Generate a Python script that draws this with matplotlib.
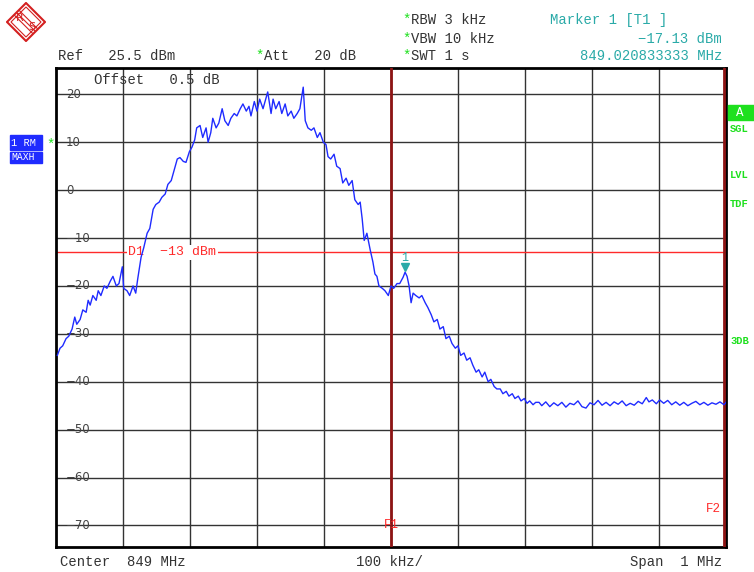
import matplotlib
matplotlib.use("Agg")
import matplotlib.pyplot as plt
from matplotlib.patches import Rectangle, Polygon

# trace: offset from 849 MHz in kHz, level in dBm
freq_khz = [-498, -494, -490, -485, -481, -476, -472, -469, -464, -460,
            -455, -452, -449, -445, -440, -437, -433, -428, -424, -419,
            -415, -410, -406, -401, -399, -394, -390, -385, -381, -378,
            -373, -369, -364, -360, -355, -351, -346, -342, -337, -333,
            -328, -324, -319, -315, -310, -306, -301, -297, -293, -290,
            -285, -281, -276, -273, -269, -266, -261, -257, -252, -248,
            -243, -239, -234, -230, -225, -221, -216, -212, -209, -204,
            -200, -196, -191, -187, -184, -179, -176, -172, -167, -163,
            -158, -154, -149, -145, -140, -136, -131, -128, -124, -119,
            -115, -110, -106, -101, -97, -94, -90, -85, -81, -76,
            -72, -67, -63, -58, -54, -49, -46, -43, -40, -36,
            -31, -27, -24, -21, -18, -13, -9, -4, 0, 4,
            9, 13, 18, 21, 24, 27, 30, 33, 37, 42,
            46, 51, 55, 60, 64, 69, 73, 78, 82, 87,
            91, 96, 100, 104, 109, 113, 118, 122, 127, 131,
            136, 140, 145, 149, 154, 158, 163, 167, 172, 176,
            181, 185, 190, 194, 199, 203, 207, 212, 216, 221,
            225, 231, 237, 243, 249, 255, 261, 267, 273, 279,
            285, 291, 297, 303, 309, 315, 321, 327, 333, 339,
            345, 351, 357, 363, 369, 375, 381, 385, 390, 396,
            401, 407, 413, 419, 425, 431, 437, 443, 449, 455,
            461, 467, 473, 479, 485, 491, 497, 500]
level_dbm = [-34.5, -33.0, -32.5, -31.0, -30.5, -29.0, -26.5, -28.0, -27.0, -25.0,
             -25.5, -23.0, -24.0, -22.0, -23.0, -21.0, -22.0, -20.0, -20.5, -19.0,
             -18.0, -20.0, -19.5, -16.0, -20.5, -21.0, -22.0, -20.0, -21.5, -18.5,
             -14.0, -12.0, -9.0, -8.0, -4.0, -3.0, -2.5, -1.5, -0.8, 1.2,
             2.0, 4.0, 6.5, 6.8, 6.0, 5.8, 8.0, 9.0, 10.5, 13.0,
             13.5, 11.0, 13.0, 10.0, 12.0, 15.0, 13.0, 14.0, 17.0, 14.5,
             13.5, 15.0, 16.0, 15.5, 17.0, 18.0, 16.5, 17.5, 15.5, 18.5,
             16.5, 19.0, 17.0, 19.0, 20.5, 16.0, 19.0, 17.0, 18.5, 16.0,
             18.0, 15.5, 16.5, 15.0, 16.0, 17.0, 21.5, 14.5, 13.0, 12.5,
             13.0, 11.0, 12.0, 10.0, 9.5, 7.0, 6.5, 7.5, 5.0, 4.5,
             1.5, 2.5, 1.0, 2.0, -2.0, -3.0, -2.5, -6.0, -10.5, -9.0,
             -12.5, -15.0, -17.5, -18.0, -20.0, -20.5, -21.0, -22.0, -20.0, -20.5,
             -19.5, -19.5, -18.2, -17.13, -18.0, -20.0, -23.5, -21.5, -22.0, -22.5,
             -22.0, -23.5, -24.5, -26.0, -27.5, -27.0, -29.0, -28.5, -31.0, -30.5,
             -32.0, -33.0, -32.5, -34.5, -34.0, -35.5, -35.0, -36.5, -38.0, -37.5,
             -39.0, -38.0, -40.0, -39.5, -41.0, -41.5, -41.5, -42.5, -42.0, -43.0,
             -42.5, -43.5, -43.0, -44.0, -43.5, -44.5, -44.0, -44.8, -44.3, -44.3,
             -45.0, -44.2, -45.2, -44.4, -45.0, -44.3, -45.3, -44.5, -44.8, -44.0,
             -45.2, -45.5, -44.4, -44.8, -43.9, -44.9, -44.3, -45.0, -44.2, -44.7,
             -44.0, -45.0, -44.5, -44.9, -44.1, -44.6, -43.3, -44.2, -43.8, -44.6,
             -43.8, -44.5, -43.9, -44.8, -44.2, -44.9, -44.3, -45.0, -44.5, -44.1,
             -44.8, -44.3, -44.9, -44.4, -44.7, -44.2, -44.8, -44.3]

y_grid = [20, 10, 0, -10, -20, -30, -40, -50, -60, -70]
x_grid = [-400, -300, -200, -100, 0, 100, 200, 300, 400]
ref_level = 25.5
display_line = -13
marker_f = 20.833333
marker_level = -17.13

W, H = 754, 572
BLUE = '#1f2bff'
TEAL = '#2aaaa8'
GREEN = '#1ee01e'
RED = '#ff2a2a'
DARKRED = '#8e1414'
GREY = '#333333'
FONT = 'Liberation Mono'


def px(x, y):
    return x / W, 1 - y / H


fig = plt.figure(figsize=(W / 100, H / 100), dpi=100)
ax = fig.add_axes([56 / W, (H - 547) / H, 670 / W, 479 / H])
ax.set_xlim(-500, 500)
ax.set_ylim(ref_level - 100, ref_level)
ax.set_xticks([])
ax.set_yticks([])
for s in ax.spines.values():
    s.set_linewidth(2)
    s.set_color('black')

for g in y_grid:
    ax.axhline(g, color=GREY, lw=1, zorder=1)
    ax.text(-485, g, str(g).replace('-', '\u2212'), fontsize=8.5, color='#444444',
            va='center', ha='left', family='DejaVu Sans', zorder=2)
for g in x_grid:
    ax.axvline(g, color=GREY, lw=1, zorder=1)

# frequency lines F1 / F2
ax.axvline(0, color=DARKRED, lw=2, zorder=3)
ax.axvline(497, color=DARKRED, lw=2, zorder=3)
ax.text(0, -70, 'F1', color=RED, fontsize=9, family=FONT, ha='center', va='center', zorder=5)
ax.text(481, -66.5, 'F2', color=RED, fontsize=9, family=FONT, ha='center', va='center', zorder=5)

# display line
ax.axhline(display_line, color=RED, lw=1, zorder=2)
ax.text(-392, display_line, 'D1  \u221213 dBm', color=RED, fontsize=9.5, family=FONT,
        ha='left', va='center', zorder=3,
        bbox=dict(facecolor='white', edgecolor='none', pad=1))

# trace
ax.plot(freq_khz, level_dbm, color=BLUE, lw=1, zorder=4)

# marker
ax.plot([marker_f], [marker_level], marker='v', color=TEAL, markersize=6,
        transform=ax.transData + matplotlib.transforms.ScaledTranslation(0, 4 / 72, fig.dpi_scale_trans),
        zorder=6)
ax.annotate('1', xy=(marker_f, marker_level), xytext=(0, 10), textcoords='offset points',
            color=TEAL, fontsize=8.5, family=FONT, ha='center', va='center', zorder=7)

ax.text((94 - 56) / 670, 0.975, 'Offset   0.5 dB', transform=ax.transAxes, fontsize=10,
        family=FONT, color=GREY, va='center', ha='left')


# header texts
def ftext(x, y, s, color=GREY, ha='left', size=10, **kw):
    fx, fy = px(x, y)
    fig.text(fx, fy, s, color=color, ha=ha, va='center', fontsize=size, family=FONT, **kw)


ftext(58, 56, 'Ref   25.5 dBm')
ftext(255, 56, '*', color=GREEN)
ftext(264, 56, 'Att   20 dB')
ftext(402, 20, '*', color=GREEN)
ftext(411, 20, 'RBW 3 kHz')
ftext(402, 39, '*', color=GREEN)
ftext(411, 39, 'VBW 10 kHz')
ftext(402, 56, '*', color=GREEN)
ftext(411, 56, 'SWT 1 s')
ftext(550, 20, 'Marker 1 [T1 ]', color=TEAL)
ftext(722, 39, '\u221217.13 dBm', color=TEAL, ha='right')
ftext(722, 56, '849.020833333 MHz', color=TEAL, ha='right')

ftext(60, 562, 'Center  849 MHz')
ftext(390, 562, '100 kHz/', ha='center')
ftext(722, 562, 'Span  1 MHz', ha='right')

# left status boxes
fig.add_artist(Rectangle(px(10, 150), 32 / W, 15 / H, transform=fig.transFigure, color=BLUE))
fig.add_artist(Rectangle(px(10, 163), 32 / W, 11 / H, transform=fig.transFigure, color=BLUE))
ftext(11, 143, '1 RM', color='white', size=7.5)
ftext(11, 157, 'MAXH', color='white', size=7)
ftext(46, 145, '*', color=GREEN)

# right status column
fig.add_artist(Rectangle(px(728, 120), 30 / W, 15 / H, transform=fig.transFigure, color=GREEN))
ftext(740, 113, 'A', color='white', size=9, ha='center')
ftext(730, 129, 'SGL', color=GREEN, size=7.5, weight='bold')
ftext(730, 175, 'LVL', color=GREEN, size=7.5, weight='bold')
ftext(730, 204, 'TDF', color=GREEN, size=7.5, weight='bold')
ftext(730, 341, '3DB', color=GREEN, size=7.5, weight='bold')

# R&S logo
lg = fig.add_axes([6 / W, 1 - 42 / H, 40 / W, 40 / H])
lg.set_xlim(-1, 1)
lg.set_ylim(-1, 1)
lg.axis('off')
lg.add_patch(Polygon([[0, 0.95], [0.95, 0], [0, -0.95], [-0.95, 0]], closed=True,
                     fill=False, edgecolor='#d42020', lw=1.5))
lg.add_patch(Polygon([[0, 0.75], [0.75, 0], [0, -0.75], [-0.75, 0]], closed=True,
                     fill=False, edgecolor='#d42020', lw=0.8))
for d in [-0.12, 0, 0.12]:
    lg.plot([-0.45 + d, 0.45 + d], [0.45 + d, -0.45 + d], color='#d42020', lw=0.8)
lg.text(-0.3, 0.22, 'R', color='#d42020', fontsize=8, ha='center', va='center', family='DejaVu Sans')
lg.text(0.3, -0.25, 'S', color='#d42020', fontsize=8, ha='center', va='center', family='DejaVu Sans')

fig.savefig('out.png', dpi=100)
